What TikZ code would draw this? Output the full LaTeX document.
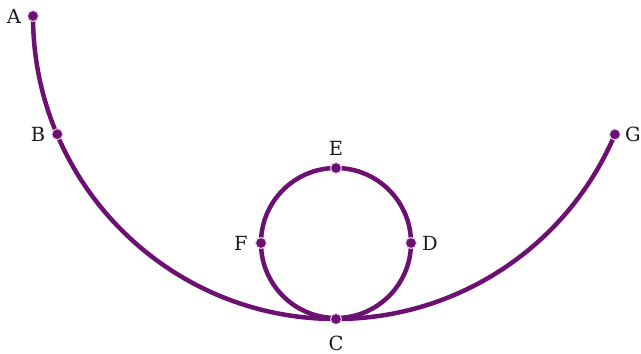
\documentclass[tikz,border=0pt]{standalone}
\usepackage{fontspec}
\setmainfont{DejaVu Serif}
\definecolor{track}{HTML}{6C1172}
\definecolor{rim}{HTML}{E6D3E8}
\begin{document}
\begin{tikzpicture}[x=1pt,y=-1pt,
  trackline/.style={draw=track,line width=4.5pt},
  dot/.style={circle,fill=track,draw=rim,line width=1pt,inner sep=0pt,minimum size=11pt},
  lbl/.style={font=\fontsize{19.5}{22}\selectfont,text=black!90,inner sep=0pt}]
\useasboundingbox (0,0) rectangle (641,354);
\coordinate (A) at (33,16);
\coordinate (B) at (57.3,134.2);
\coordinate (C) at (336,319);
\coordinate (G) at (614.9,134.4);
\coordinate (D) at (411,243);
\coordinate (E) at (336,168);
\coordinate (F) at (261,243);
\draw[trackline] (A) arc[start angle=180,end angle=23,radius=303];
\draw[trackline] (336,243) circle[radius=75];
\foreach \p in {A,B,C,D,E,F,G} \node[dot] at (\p) {};
\node[lbl] (lA) at (14,16) {A};
\node[lbl] (lB) at (38,134) {B};
\node[lbl] (lC) at (336,343) {C};
\node[lbl] (lD) at (430,243) {D};
\node[lbl] (lE) at (336,148) {E};
\node[lbl] (lF) at (241,243) {F};
\node[lbl] (lG) at (633,134) {G};
\end{tikzpicture}
\end{document}
